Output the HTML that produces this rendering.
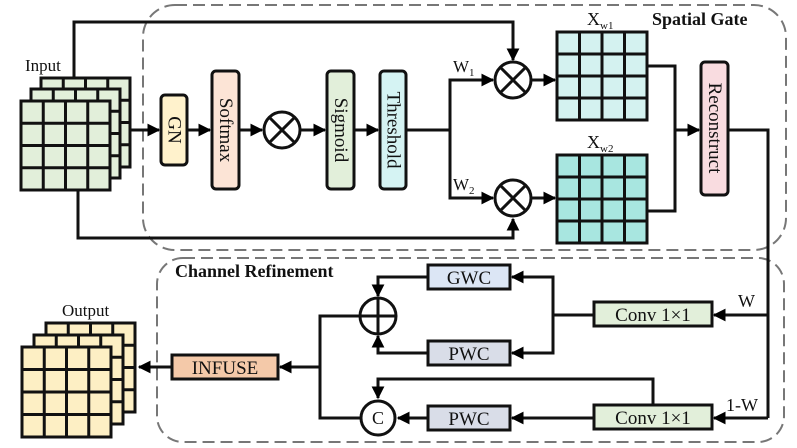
<!DOCTYPE html>
<html><head><meta charset="utf-8"><style>
html,body{margin:0;padding:0;background:#fff}
svg{display:block}
text{font-family:"Liberation Serif",serif;fill:#111}
</style></head><body>
<svg width="797" height="448" viewBox="0 0 797 448" xmlns="http://www.w3.org/2000/svg">
<defs>
<marker id="a" viewBox="0 0 10 10" refX="9" refY="5" markerWidth="4.3" markerHeight="4.3" orient="auto"><path d="M0,0L10,5L0,10z" fill="#000"/></marker>
</defs>
<rect x="143" y="5" width="643" height="245" rx="32" fill="none" stroke="#777" stroke-width="2" stroke-dasharray="12,6"/>
<rect x="157" y="258" width="627" height="184" rx="26" fill="none" stroke="#777" stroke-width="2" stroke-dasharray="12,6"/>

<g stroke="#111" stroke-width="3" fill="none">
<g fill="#e2efda">
<rect x="41" y="78" width="89" height="89"/>
<path d="M41 100.25H130M41 122.5H130M41 144.75H130M63.25 78V167M85.5 78V167M107.75 78V167"/>
<rect x="31" y="89" width="89" height="89"/>
<path d="M31 111.25H120M31 133.5H120M31 155.75H120M53.25 89V178M75.5 89V178M97.75 89V178"/>
<rect x="21" y="101" width="89" height="89"/>
<path d="M21 123.25H110M21 145.5H110M21 167.75H110M43.25 101V190M65.5 101V190M87.75 101V190"/>
</g>
<path d="M74 78V22H513V60" marker-end="url(#a)"/>
<path d="M78 190V238H513V219" marker-end="url(#a)"/>
<path d="M130 130H159" marker-end="url(#a)"/>
<path d="M187 130H210" marker-end="url(#a)"/>
<path d="M239 130H262" marker-end="url(#a)"/>
<path d="M300 130H325" marker-end="url(#a)"/>
<path d="M354 130H378" marker-end="url(#a)"/>
<path d="M406 130H450"/>
<path d="M450 198V80H493" marker-end="url(#a)"/>
<path d="M450 130V198H493" marker-end="url(#a)"/>
<path d="M531 80H555" marker-end="url(#a)"/>
<path d="M531 198H555" marker-end="url(#a)"/>
<path d="M647 66H675V211H647"/>
<path d="M675 130H699" marker-end="url(#a)"/>
<path d="M728 130H768V418"/>
<rect x="161" y="95" width="26" height="70" rx="4" fill="#fff2cc"/>
<rect x="212" y="71" width="27" height="118" rx="4" fill="#fce4d6"/>
<rect x="327" y="71" width="27" height="118" rx="4" fill="#e2efda"/>
<rect x="380" y="71" width="26" height="118" rx="4" fill="#d5f3f3"/>
<rect x="701" y="62" width="27" height="133" rx="4" fill="#f9dce0"/>
<circle cx="282" cy="130" r="18" fill="#fff"/><path d="M269 117L295 143M295 117L269 143"/>
<circle cx="513" cy="80" r="18" fill="#fff"/><path d="M500 67L526 93M526 67L500 93"/>
<circle cx="513" cy="198" r="18" fill="#fff"/><path d="M500 185L526 211M526 185L500 211"/>
<rect x="557" y="32" width="90" height="88" fill="#d4f2f0"/>
<path d="M557 54H647M557 76H647M557 98H647M579.5 32V120M602 32V120M624.5 32V120"/>
<rect x="557" y="155" width="90" height="88" fill="#a8e6e0"/>
<path d="M557 177H647M557 199H647M557 221H647M579.5 155V243M602 155V243M624.5 155V243"/>

<path d="M768 315H714" marker-end="url(#a)"/>
<path d="M768 418H714" marker-end="url(#a)"/>
<path d="M594 315H553"/>
<path d="M553 315V277H512" marker-end="url(#a)"/>
<path d="M553 315V353H512" marker-end="url(#a)"/>
<path d="M428 277H378V296" marker-end="url(#a)"/>
<path d="M428 353H378V336" marker-end="url(#a)"/>
<path d="M360 316H320V418H361"/>
<path d="M320 367H280" marker-end="url(#a)"/>
<path d="M172 367H139" marker-end="url(#a)"/>
<path d="M594 418H512" marker-end="url(#a)"/>
<path d="M428 418H398" marker-end="url(#a)"/>
<path d="M653 405V379H378V398" marker-end="url(#a)"/>
<rect x="594" y="302" width="118" height="24" fill="#e2efda"/>
<rect x="594" y="405" width="118" height="24" fill="#e2efda"/>
<rect x="428" y="265" width="82" height="24" fill="#dce6f5"/>
<rect x="428" y="341" width="82" height="24" fill="#d9dde8"/>
<rect x="428" y="406" width="82" height="24" fill="#d9dde8"/>
<rect x="172" y="355" width="106" height="24" fill="#f4c9a9"/>
<circle cx="378" cy="316" r="18" fill="#fff"/><path d="M360 316H396M378 298V334"/>
<circle cx="378" cy="418" r="17" fill="#fff"/>
<g fill="#fdefc4">
<rect x="46" y="323" width="89" height="89"/>
<path d="M46 345.25H135M46 367.5H135M46 389.75H135M68.25 323V412M90.5 323V412M112.75 323V412"/>
<rect x="34" y="335" width="89" height="89"/>
<path d="M34 357.25H123M34 379.5H123M34 401.75H123M56.25 335V424M78.5 335V424M100.75 335V424"/>
<rect x="22" y="347" width="89" height="90"/>
<path d="M22 369.5H111M22 392H111M22 414.5H111M44.25 347V437M66.5 347V437M88.75 347V437"/>
</g>
</g>

<g font-size="17">
<text x="25" y="71">Input</text>
<text x="62" y="316">Output</text>
<text x="453" y="72">W<tspan font-size="11" dy="4">1</tspan></text>
<text x="453" y="190">W<tspan font-size="11" dy="4">2</tspan></text>
<text x="587" y="25" font-size="18">X<tspan font-size="11" dy="4">w1</tspan></text>
<text x="587" y="148" font-size="18">X<tspan font-size="11" dy="4">w2</tspan></text>
<text x="652" y="25" font-weight="bold" font-size="18">Spatial Gate</text>
<text x="175" y="277" font-weight="bold" font-size="18">Channel Refinement</text>
<text x="738" y="307" font-size="18">W</text>
<text x="726" y="411" font-size="18">1-W</text>
</g>
<g font-size="19" text-anchor="middle">
<text x="653" y="321">Conv 1×1</text>
<text x="653" y="424">Conv 1×1</text>
<text x="469" y="284">GWC</text>
<text x="469" y="360">PWC</text>
<text x="469" y="425">PWC</text>
<text x="225" y="374">INFUSE</text>
<text x="378" y="424" font-size="18">C</text>
<g dominant-baseline="central">
<text transform="translate(174,130) rotate(90)">GN</text>
<text transform="translate(225.5,130) rotate(90)">Softmax</text>
<text transform="translate(340.5,130) rotate(90)">Sigmoid</text>
<text transform="translate(393,130) rotate(90)">Threshold</text>
<text transform="translate(714.5,128) rotate(90)">Reconstruct</text>
</g>
</g>
</svg>
</body></html>
